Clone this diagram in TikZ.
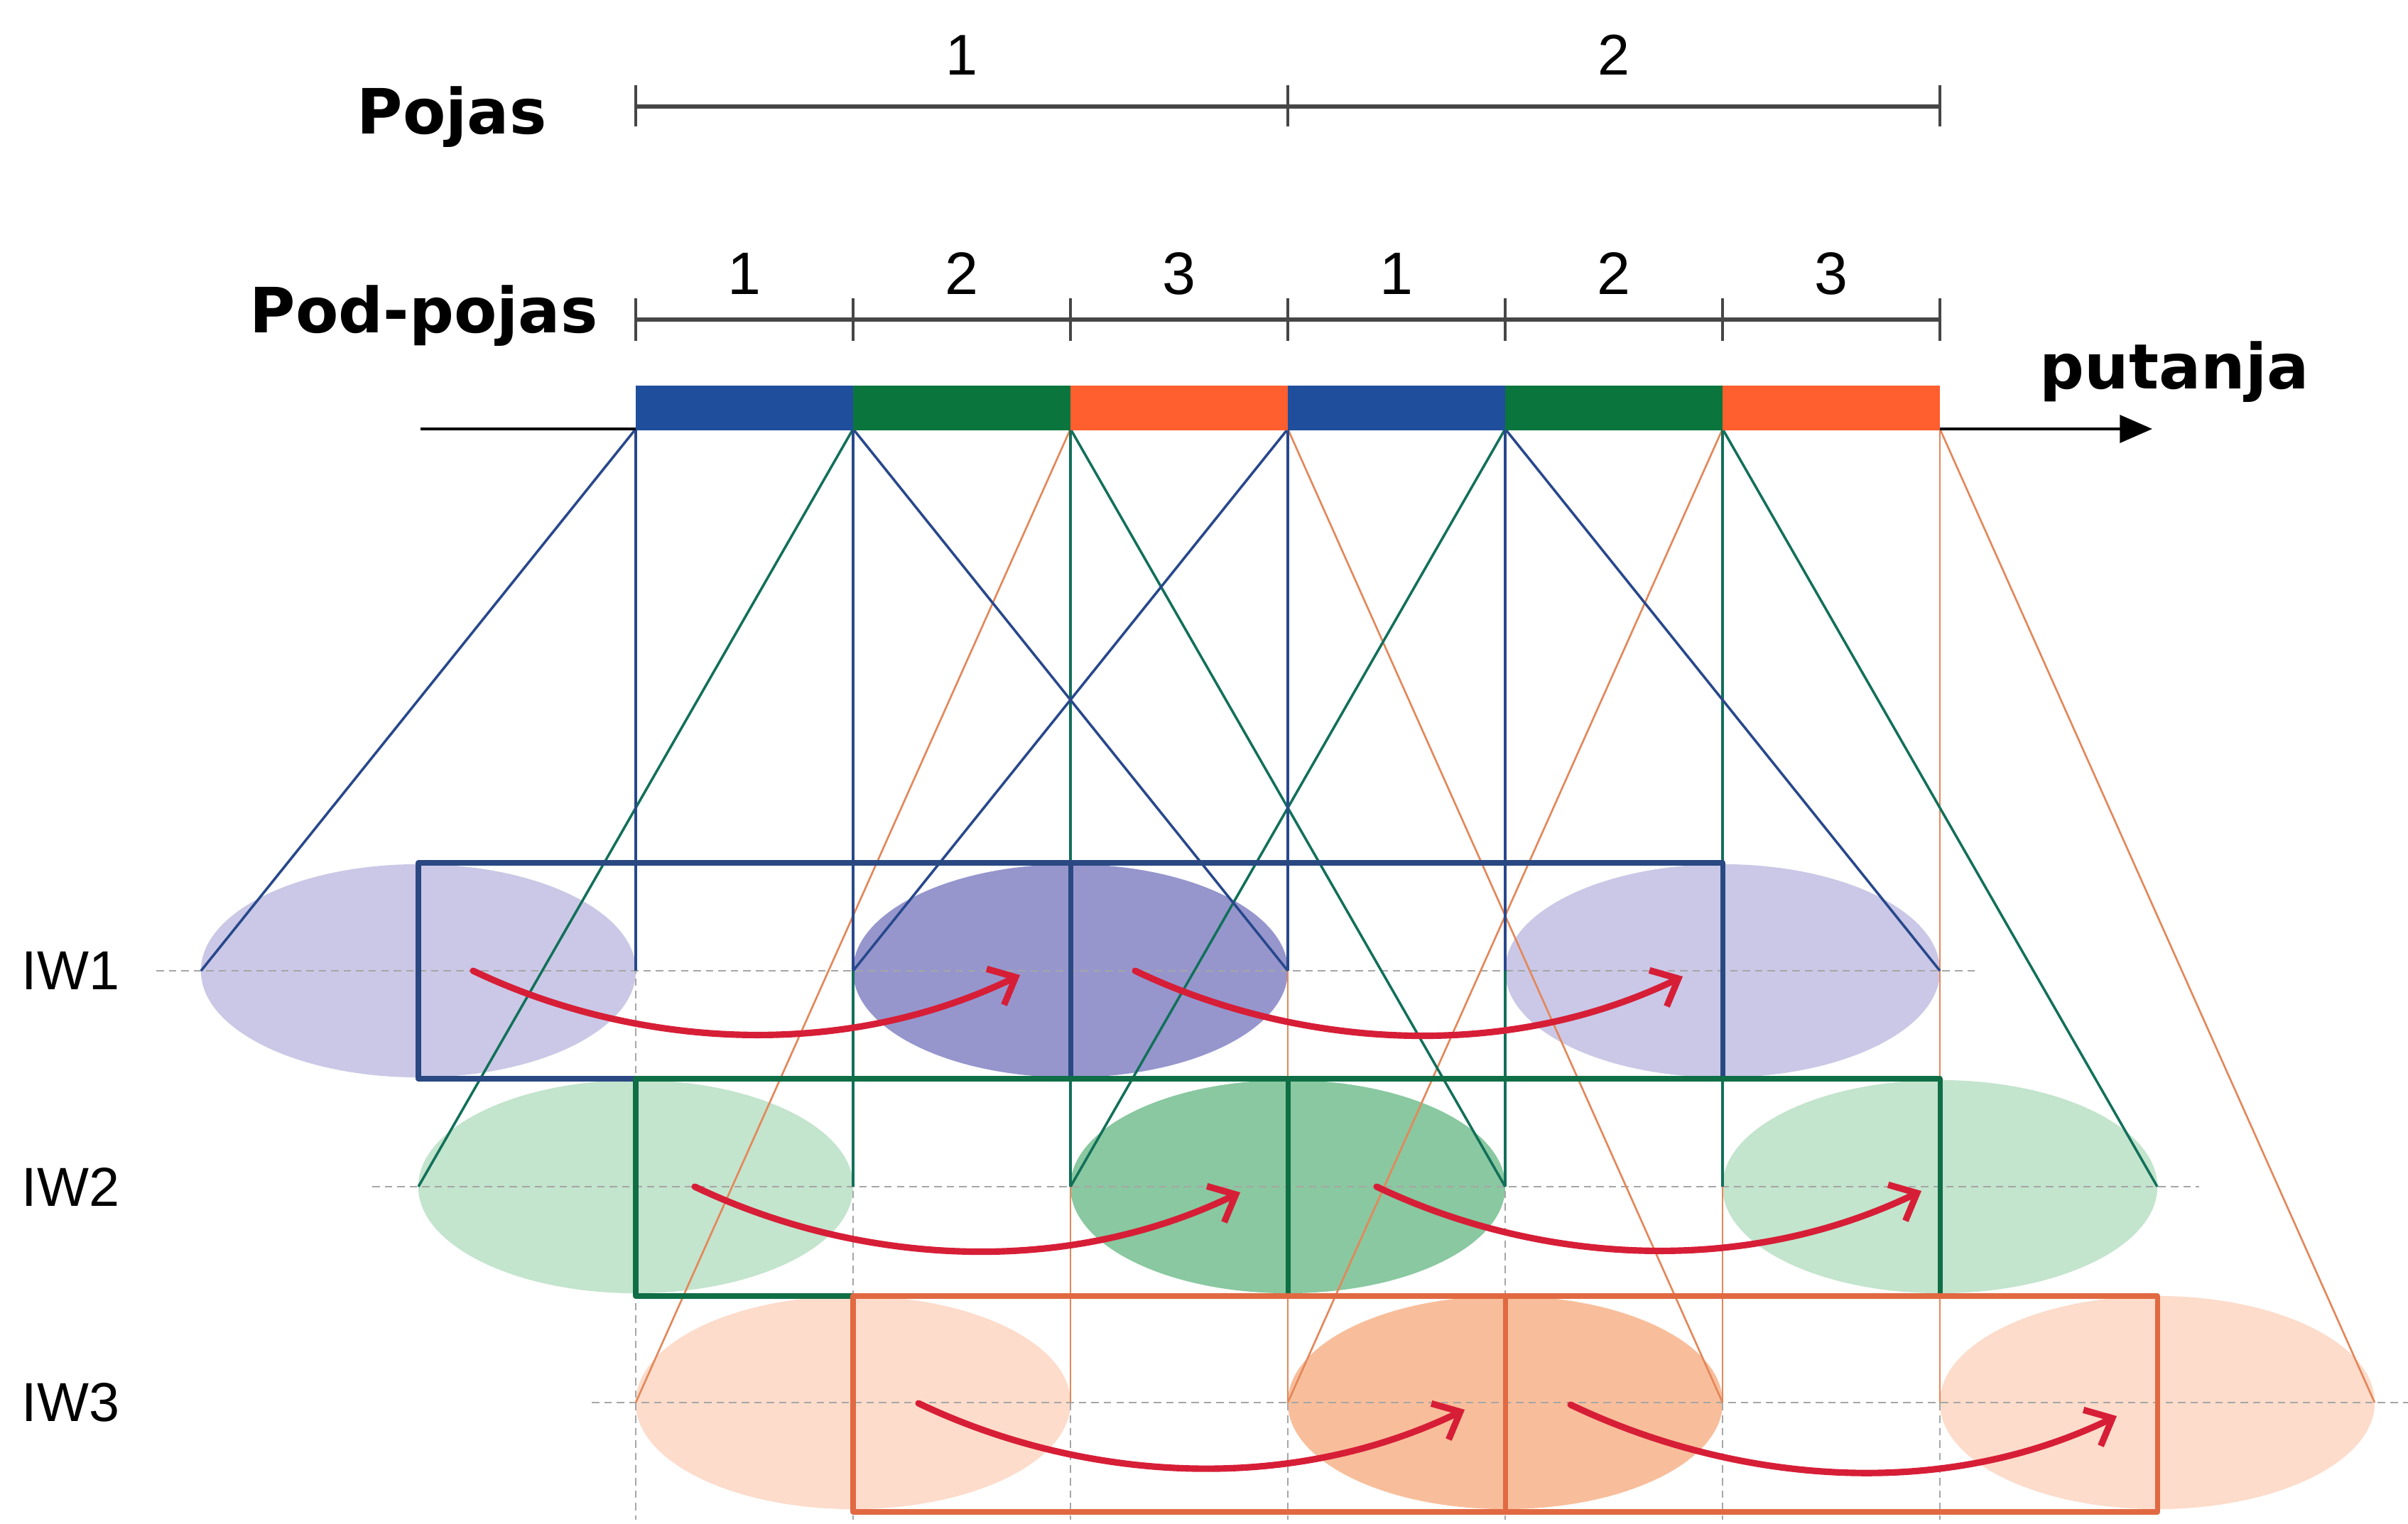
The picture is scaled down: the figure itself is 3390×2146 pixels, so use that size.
\documentclass[tikz,border=0pt]{standalone}
\usepackage{fontspec}
\setmainfont{Liberation Sans}
\newfontfamily\vfont{DejaVu Sans}
\usetikzlibrary{arrows.meta}
\definecolor{barblue}{RGB}{31,78,156}
\definecolor{bargreen}{RGB}{10,118,62}
\definecolor{barorange}{RGB}{255,94,46}
\definecolor{lblue}{RGB}{40,72,140}
\definecolor{lgreen}{RGB}{18,112,90}
\definecolor{lorange}{RGB}{228,135,90}
\definecolor{eAl}{RGB}{202,200,230}
\definecolor{eAd}{RGB}{150,150,205}
\definecolor{eBl}{RGB}{195,228,205}
\definecolor{eBd}{RGB}{137,200,160}
\definecolor{eCl}{RGB}{253,220,203}
\definecolor{eCd}{RGB}{248,190,155}
\definecolor{rblue}{RGB}{42,72,130}
\definecolor{rgreen}{RGB}{15,110,70}
\definecolor{rorange}{RGB}{225,105,65}
\definecolor{arred}{RGB}{215,30,55}
\definecolor{scalegray}{RGB}{70,70,70}
\tikzset{
  ell/.style={x radius=3.06cm, y radius=1.5cm},
  guide/.style={draw=gray!70, line width=0.7pt, dash pattern=on 3pt off 2pt},
  blueln/.style={draw=lblue, line width=1pt},
  greenln/.style={draw=lgreen, line width=1pt},
  orangeln/.style={draw=lorange, line width=0.75pt},
  rectA/.style={draw=rblue, line width=2pt},
  rectB/.style={draw=rgreen, line width=2pt},
  rectC/.style={draw=rorange, line width=2pt},
  redarr/.style={draw=arred, line width=2.6pt, line cap=round, -{Straight Barb[length=9pt,width=16pt]}},
  scaleln/.style={draw=scalegray, line width=1.5pt},
  scaletick/.style={draw=scalegray, line width=0.9pt},
  axisln/.style={draw=black, line width=1.3pt, -{Triangle[length=13pt,width=11pt]}},
  digit/.style={font=\fontsize{24}{28}\selectfont, inner sep=0pt, anchor=base},
  boldlab/.style={font=\vfont\bfseries\fontsize{25}{30}\selectfont, inner sep=0pt},
  iwlab/.style={font=\fontsize{22}{26}\selectfont, inner sep=0pt, anchor=west}
}
\begin{document}
\begin{tikzpicture}[x=0.01cm, y=-0.01cm, line join=round]
\useasboundingbox (0,0) rectangle (3390,2146);
\fill[white] (0,0) rectangle (3390,2146);

% named coordinates
\foreach \k in {-2,...,8} {
  \pgfmathtruncatemacro{\xx}{895+306*\k}
  \coordinate (t\k) at (\xx,604);
  \coordinate (a\k) at (\xx,1367);
  \coordinate (b\k) at (\xx,1671);
  \coordinate (c\k) at (\xx,1975);
  \coordinate (g\k) at (\xx,2140);
  \coordinate (p\k) at (\xx,150);
  \coordinate (q\k) at (\xx,450);
}

% ellipses
\fill[eAl] (a-1) ellipse [ell];
\fill[eAd] (a2) ellipse [ell];
\fill[eAl] (a5) ellipse [ell];
\fill[eBl] (b0) ellipse [ell];
\fill[eBd] (b3) ellipse [ell];
\fill[eBl] (b6) ellipse [ell];
\fill[eCl] (c1) ellipse [ell];
\fill[eCd] (c4) ellipse [ell];
\fill[eCl] (c7) ellipse [ell];

% guide lines
\foreach \k in {0,...,6} \draw[guide] (t\k) -- (g\k);
\coordinate (ra1) at (220,1367); \coordinate (ra2) at (2780,1367);
\coordinate (rb1) at (524,1671); \coordinate (rb2) at (3096,1671);
\coordinate (rc1) at (833,1975); \coordinate (rc2) at (3390,1975);
\draw[guide] (ra1) -- (ra2);
\draw[guide] (rb1) -- (rb2);
\draw[guide] (rc1) -- (rc2);

% projection lines
\draw[orangeln] (t2) -- (c0); \draw[orangeln] (t3) -- (c5);
\draw[orangeln] (t2) -- (c2); \draw[orangeln] (t3) -- (c3);
\draw[orangeln] (t5) -- (c3); \draw[orangeln] (t6) -- (c8);
\draw[orangeln] (t5) -- (c5); \draw[orangeln] (t6) -- (c6);
\draw[greenln] (t1) -- (b-1); \draw[greenln] (t2) -- (b4);
\draw[greenln] (t1) -- (b1); \draw[greenln] (t2) -- (b2);
\draw[greenln] (t4) -- (b2); \draw[greenln] (t5) -- (b7);
\draw[greenln] (t4) -- (b4); \draw[greenln] (t5) -- (b5);
\draw[blueln] (t0) -- (a-2); \draw[blueln] (t1) -- (a3);
\draw[blueln] (t0) -- (a0); \draw[blueln] (t1) -- (a1);
\draw[blueln] (t3) -- (a1); \draw[blueln] (t4) -- (a6);
\draw[blueln] (t3) -- (a3); \draw[blueln] (t4) -- (a4);

% window rectangles
\coordinate (RA1) at (589,1215); \coordinate (RA2) at (2425,1519);
\coordinate (DA1) at (1507,1215); \coordinate (DA2) at (1507,1519);
\coordinate (RB1) at (895,1519); \coordinate (RB2) at (2731,1825);
\coordinate (DB1) at (1813,1519); \coordinate (DB2) at (1813,1825);
\coordinate (RC1) at (1201,1825); \coordinate (RC2) at (3037,2129);
\coordinate (DC1) at (2119,1825); \coordinate (DC2) at (2119,2129);
\draw[rectA] (RA1) rectangle (RA2); \draw[rectA] (DA1) -- (DA2);
\draw[rectB] (RB1) rectangle (RB2); \draw[rectB] (DB1) -- (DB2);
\draw[rectC] (RC1) rectangle (RC2); \draw[rectC] (DC1) -- (DC2);

% red arrows
\coordinate (A1s) at (666,1367);  \coordinate (A1e) at (1436,1373);
\coordinate (A2s) at (1598,1367); \coordinate (A2e) at (2369,1375);
\coordinate (B1s) at (978,1671);  \coordinate (B1e) at (1746,1679);
\coordinate (B2s) at (1938,1671); \coordinate (B2e) at (2705,1677);
\coordinate (C1s) at (1293,1976); \coordinate (C1e) at (2062,1985);
\coordinate (C2s) at (2211,1978); \coordinate (C2e) at (2980,1994);
\foreach \s/\e in {A1s/A1e, A2s/A2e, B1s/B1e, B2s/B2e, C1s/C1e, C2s/C2e}
  \draw[redarr] (\s) .. controls +(220,105) and +(-260,125) .. (\e);

% path axis and coloured bar
\coordinate (axs) at (592,604); \coordinate (axe) at (3030,604);
\draw[axisln] (axs) -- (axe);
\fill[barblue]   (895,543) rectangle (1201,606);
\fill[bargreen]  (1201,543) rectangle (1507,606);
\fill[barorange] (1507,543) rectangle (1813,606);
\fill[barblue]   (1813,543) rectangle (2119,606);
\fill[bargreen]  (2119,543) rectangle (2425,606);
\fill[barorange] (2425,543) rectangle (2731,606);

% scales
\draw[scaleln] (p0) -- (p6);
\foreach \k in {0,3,6} \draw[scaletick] ([yshift=0.3cm]p\k) -- ([yshift=-0.28cm]p\k);
\draw[scaleln] (q0) -- (q6);
\foreach \k in {0,...,6} \draw[scaletick] ([yshift=0.3cm]q\k) -- ([yshift=-0.3cm]q\k);

% labels
\node[digit, font=\fontsize{23}{27}\selectfont] (P1) at (1354,106) {1};
\node[digit, font=\fontsize{23}{27}\selectfont] (P2) at (2272,106) {2};
\node[digit] (S1) at (1048,415) {1};
\node[digit] (S2) at (1354,415) {2};
\node[digit] (S3) at (1660,415) {3};
\node[digit] (S4) at (1966,415) {1};
\node[digit] (S5) at (2272,415) {2};
\node[digit] (S6) at (2578,415) {3};
\node[boldlab, anchor=base east] (pojas) at (770,189) {Pojas};
\node[boldlab, anchor=base east] (podpojas) at (842,469) {Pod-pojas};
\node[boldlab, anchor=base] (putanja) at (3061,548) {putanja};
\node[iwlab] (iw1) at (30,1367) {IW1};
\node[iwlab] (iw2) at (30,1671) {IW2};
\node[iwlab] (iw3) at (30,1975) {IW3};
\end{tikzpicture}
\end{document}
